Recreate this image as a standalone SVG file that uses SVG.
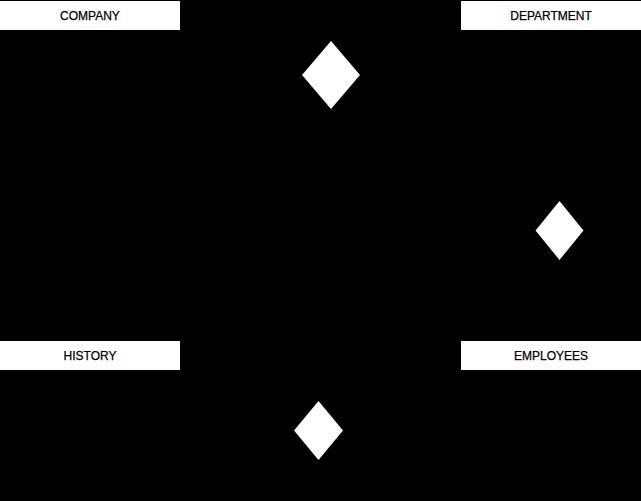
<svg xmlns="http://www.w3.org/2000/svg" width="641" height="501" viewBox="0 0 641 501">
<style>
.ent{fill:#ffffff;stroke:none}
.rel{fill:#ffffff;stroke:none}
.lbl{font-family:"Liberation Sans",Arial,sans-serif;font-size:12px;fill:#000000;stroke:#000000;stroke-width:0.25;text-anchor:middle;dominant-baseline:central}
</style>
<rect x="0" y="0" width="641" height="501" fill="#000000"/>
<g id="connectors"></g>
<g id="company">
<rect class="ent" x="0" y="1" width="180" height="29"/>
<text class="lbl" x="90" y="16">COMPANY</text>
</g>
<g id="department">
<rect class="ent" x="461" y="1" width="180" height="29"/>
<text class="lbl" x="551" y="16">DEPARTMENT</text>
</g>
<g id="history">
<rect class="ent" x="0" y="341" width="180" height="29"/>
<text class="lbl" x="90" y="356">HISTORY</text>
</g>
<g id="employees">
<rect class="ent" x="461" y="341" width="180" height="29"/>
<text class="lbl" x="551" y="356">EMPLOYEES</text>
</g>
<g id="rel-company-department">
<polygon class="rel" points="331,41 360,75 331,109 302,75"/>
</g>
<g id="rel-department-employees">
<polygon class="rel" points="559.5,201 583.5,230.5 559.5,260 535.5,230.5"/>
</g>
<g id="rel-history-employees">
<polygon class="rel" points="318.5,401 343,430.5 318.5,460 294,430.5"/>
</g>
</svg>
